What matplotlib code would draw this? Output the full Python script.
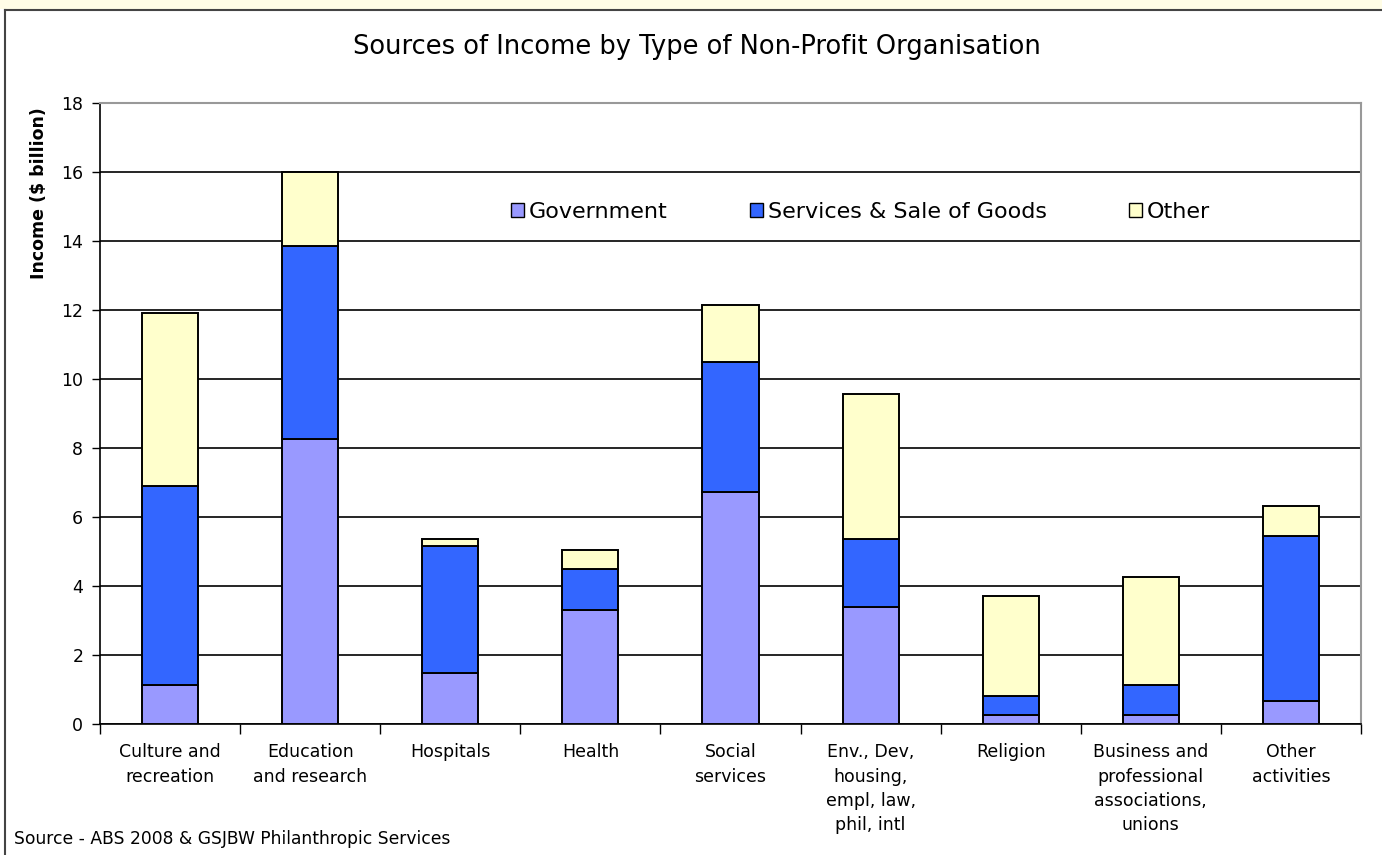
import matplotlib
matplotlib.use("Agg")
import matplotlib.pyplot as plt
from matplotlib.patches import Rectangle
from matplotlib.lines import Line2D
import numpy as np

categories = ["Culture and\nrecreation", "Education\nand research", "Hospitals", "Health",
              "Social\nservices", "Env., Dev,\nhousing,\nempl, law,\nphil, intl", "Religion",
              "Business and\nprofessional\nassociations,\nunions", "Other\nactivities"]
government = [1.13, 8.25, 1.47, 3.30, 6.73, 3.40, 0.25, 0.25, 0.68]
services = [5.77, 5.60, 3.68, 1.20, 3.75, 1.95, 0.55, 0.88, 4.77]
other = [5.00, 2.15, 0.20, 0.55, 1.67, 4.22, 2.90, 3.12, 0.87]
series_names = ["Government", "Services & Sale of Goods", "Other"]
colors = ["#9999FF", "#3366FF", "#FFFFCC"]
yticks = [0, 2, 4, 6, 8, 10, 12, 14, 16, 18]

plt.rcParams['font.family'] = ['DejaVu Sans']

fig = plt.figure(figsize=(13.82, 8.55), dpi=100)
fig.patch.set_facecolor("white")
# light strip at top and outer frame
fig.add_artist(Rectangle((0, 1 - 9/855), 1, 9/855, transform=fig.transFigure,
                         facecolor="#FFFDE6", edgecolor="none", zorder=0))
fig.add_artist(Line2D([5/1382, 1.0], [1 - 10/855, 1 - 10/855], transform=fig.transFigure,
                      color="#444444", lw=1.5))
fig.add_artist(Line2D([5/1382, 5/1382], [0, 1 - 10/855], transform=fig.transFigure,
                      color="#444444", lw=1.5))

ax = fig.add_axes([100/1382, 1 - 724/855, (1361 - 100)/1382, (724 - 103)/855])
x = np.arange(len(categories))
w = 0.40
b1 = np.array(government)
b2 = b1 + np.array(services)
ax.bar(x, government, w, color=colors[0], edgecolor="black", lw=1.4, label=series_names[0], zorder=3)
ax.bar(x, services, w, bottom=b1, color=colors[1], edgecolor="black", lw=1.4, label=series_names[1], zorder=3)
ax.bar(x, other, w, bottom=b2, color=colors[2], edgecolor="black", lw=1.4, label=series_names[2], zorder=3)

ax.set_xlim(-0.5, len(categories) - 0.5)
ax.set_ylim(0, 18)
ax.set_yticks(yticks)
ax.yaxis.grid(True, color="black", lw=1.2, zorder=0)
ax.set_axisbelow(True)
ax.tick_params(axis='y', labelsize=12.5, length=6, width=1, colors="black", direction="out", pad=6)
ax.set_xticks(x)
ax.set_xticklabels(categories, fontsize=12.5, linespacing=1.45, va="top")
ax.tick_params(axis='x', length=0, pad=14)
# category boundary ticks
ax.set_xticks(np.arange(-0.5, len(categories) + 0.5, 1), minor=True)
ax.tick_params(axis='x', which='minor', length=7, width=1, direction="out")

for s in ["top", "right"]:
    ax.spines[s].set_color("#999999")
    ax.spines[s].set_linewidth(1.5)
ax.spines["left"].set_color("black")
ax.spines["bottom"].set_color("black")
ax.spines["left"].set_linewidth(1.2)
ax.spines["bottom"].set_linewidth(1.2)

ax.set_ylabel("Income ($ billion)", fontsize=12.5, fontweight="bold")
ax.yaxis.set_label_coords(-0.041, 0.855)

leg = ax.legend(loc="center", bbox_to_anchor=(0.603, 0.825), ncol=3, frameon=False,
                fontsize=16, handlelength=0.6, handleheight=0.6, handletextpad=0.2,
                columnspacing=3.7)
for h in leg.legend_handles:
    h.set_edgecolor("black")
    h.set_linewidth(1.0)

fig.text(697/1382, 1 - 47/855, "Sources of Income by Type of Non-Profit Organisation",
         ha="center", va="center", fontsize=18.5)
fig.text(14/1382, 1 - 839/855, "Source - ABS 2008 & GSJBW Philanthropic Services",
         ha="left", va="center", fontsize=12.3)

fig.savefig("out.png", dpi=100)
